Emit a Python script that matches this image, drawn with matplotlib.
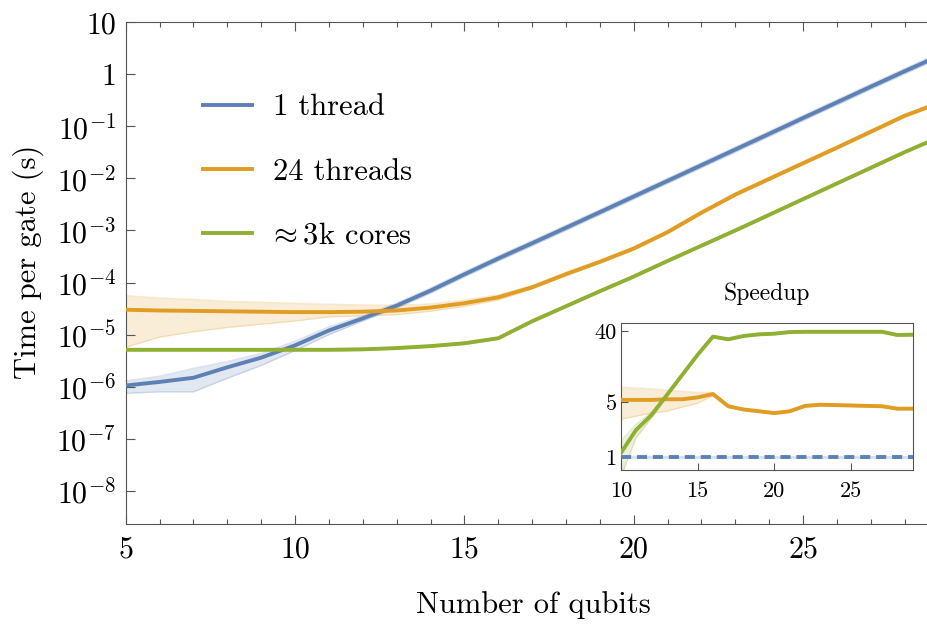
import matplotlib
matplotlib.use("Agg")
import matplotlib.pyplot as plt
import numpy as np
from matplotlib.ticker import FixedLocator, MultipleLocator, NullLocator

plt.rcParams['font.family'] = ['cmr10', 'DejaVu Serif']
plt.rcParams['mathtext.fontset'] = 'cm'
plt.rcParams['axes.formatter.use_mathtext'] = True

# ---------------- data: time per gate (s) ----------------
qubits = [5, 6, 7, 8, 9, 10, 11, 12, 13, 14, 15, 16, 17, 18, 19, 20,
          21, 22, 23, 24, 25, 26, 27, 28, 29]

t_1thread = [1.05e-6, 1.23e-6, 1.48e-6, 2.35e-6, 3.6e-6, 6.2e-6, 1.2e-5,
             2.05e-5, 3.6e-5, 7.0e-5, 1.44e-4, 2.9e-4, 5.7e-4, 1.13e-3,
             2.25e-3, 4.5e-3, 9.0e-3, 1.8e-2, 3.6e-2, 7.2e-2, 0.145, 0.29,
             0.58, 1.15, 2.25]
t_24threads = [3.0e-5, 2.9e-5, 2.85e-5, 2.8e-5, 2.75e-5, 2.7e-5, 2.7e-5,
               2.75e-5, 2.9e-5, 3.3e-5, 4.0e-5, 5.2e-5, 8.1e-5, 1.45e-4,
               2.5e-4, 4.5e-4, 9.3e-4, 2.2e-3, 4.9e-3, 9.8e-3, 1.96e-2,
               3.9e-2, 7.9e-2, 0.16, 0.28]
t_3kcores = [5.1e-6, 5.1e-6, 5.1e-6, 5.1e-6, 5.1e-6, 5.1e-6, 5.1e-6, 5.2e-6,
             5.5e-6, 6.0e-6, 6.8e-6, 8.5e-6, 1.8e-5, 3.5e-5, 6.8e-5, 1.3e-4,
             2.6e-4, 5.1e-4, 1.0e-3, 2.0e-3, 4.0e-3, 8.0e-3, 1.6e-2, 3.2e-2,
             6.1e-2]

# spread of the measurements, in decades above / below the mean
spread_1thread_up = [0.09, 0.11, 0.18, 0.11, 0.08, 0.08, 0.07, 0.05, 0.05,
                     0.05, 0.05, 0.05, 0.05, 0.05, 0.05, 0.05, 0.05, 0.05,
                     0.05, 0.05, 0.05, 0.05, 0.05, 0.05, 0.05]
spread_1thread_dn = [0.15, 0.19, 0.27, 0.21, 0.15, 0.10, 0.08, 0.05, 0.05,
                     0.05, 0.05, 0.05, 0.05, 0.05, 0.05, 0.05, 0.05, 0.05,
                     0.05, 0.05, 0.05, 0.05, 0.05, 0.05, 0.05]
spread_24_up = [0.27, 0.24, 0.22, 0.19, 0.18, 0.17, 0.15, 0.13, 0.10, 0.07,
                0.06, 0.05, 0.03, 0.03, 0.03, 0.03, 0.03, 0.03, 0.03, 0.03,
                0.03, 0.03, 0.03, 0.03, 0.03]
spread_24_dn = [0.72, 0.51, 0.40, 0.31, 0.24, 0.17, 0.09, 0.08, 0.08, 0.07,
                0.06, 0.05, 0.03, 0.03, 0.03, 0.03, 0.03, 0.03, 0.03, 0.03,
                0.03, 0.03, 0.03, 0.03, 0.03]
spread_3k = [0.02, 0.02, 0.02, 0.02, 0.02, 0.02, 0.02, 0.02, 0.02, 0.02,
             0.02, 0.02, 0.02, 0.02, 0.02, 0.02, 0.02, 0.02, 0.02, 0.02,
             0.02, 0.02, 0.02, 0.02, 0.02]

# ---------------- data: speedup relative to 1 thread ----------------
speed_qubits = [10, 11, 12, 13, 14, 15, 16, 17, 18, 19, 20, 21, 22, 23,
                24, 25, 26, 27, 28, 29]
speed_1thread = [1, 1, 1, 1, 1, 1, 1, 1, 1, 1, 1, 1, 1, 1, 1, 1, 1, 1, 1, 1]
speed_24 = [5.3, 5.3, 5.3, 5.4, 5.4, 5.7, 6.3, 4.4, 4.0, 3.8, 3.6, 3.8,
            4.45, 4.6, 4.55, 4.5, 4.45, 4.4, 4.1, 4.1]
speed_24_lo = [3.0, 3.3, 3.6, 3.8, 4.3, 4.8, 6.0, 4.25, 3.88, 3.68, 3.5,
               3.68, 4.32, 4.46, 4.42, 4.37, 4.32, 4.27, 3.98, 3.98]
speed_24_hi = [7.7, 7.5, 7.3, 7.1, 6.8, 6.6, 6.6, 4.55, 4.12, 3.92, 3.72,
               3.92, 4.58, 4.74, 4.69, 4.64, 4.58, 4.53, 4.22, 4.22]
speed_3k = [1.11, 2.2, 3.4, 6.1, 11.0, 19.8, 33.8, 31.3, 34.5, 36.2, 36.9,
            38.7, 39.0, 39.0, 39.0, 39.0, 39.0, 39.0, 35.5, 35.8]
speed_3k_lo = [0.55, 1.75, 3.1, 5.8, 10.6, 19.2, 32.8, 30.4, 33.5, 35.1,
               35.8, 37.5, 37.8, 37.8, 37.8, 37.8, 37.8, 37.8, 34.4, 34.7]
speed_3k_hi = [1.6, 2.6, 3.7, 6.4, 11.4, 20.4, 34.8, 32.2, 35.5, 37.3, 38.0,
               39.9, 40.2, 40.2, 40.2, 40.2, 40.2, 40.2, 36.6, 36.9]

labels = ['1 thread', '24 threads', r'$\!\approx$3k cores']
main_yticks = [1e-8, 1e-7, 1e-6, 1e-5, 1e-4, 1e-3, 1e-2, 1e-1, 1, 10]
main_yticklabels = [r'$10^{-8}$', r'$10^{-7}$', r'$10^{-6}$', r'$10^{-5}$',
                    r'$10^{-4}$', r'$10^{-3}$', r'$10^{-2}$', r'$10^{-1}$',
                    '1', '10']
inset_yticks = [1, 5, 40]
inset_yticklabels = ['1', '5', '40']

# ---------------- style ----------------
BLUE = '#5E81B5'
ORANGE = '#E19C24'
GREEN = '#8FB032'
FRAME = '#555555'
LW = 2.8

fig = plt.figure(figsize=(9.28, 6.25), dpi=100)
ax = fig.add_axes([0.1355, 0.1616, 1 - 0.1355, 0.8027])


def band(axis, x, y, up, dn, color):
    y = np.asarray(y, float)
    hi = y * 10 ** np.asarray(up, float)
    lo = y / 10 ** np.asarray(dn, float)
    axis.fill_between(x, lo, hi, color=color, alpha=0.18, lw=0, zorder=1)
    axis.plot(x, hi, color=color, alpha=0.22, lw=1.0, zorder=1)
    axis.plot(x, lo, color=color, alpha=0.22, lw=1.0, zorder=1)


band(ax, qubits, t_1thread, spread_1thread_up, spread_1thread_dn, BLUE)
band(ax, qubits, t_24threads, spread_24_up, spread_24_dn, ORANGE)
band(ax, qubits, t_3kcores, spread_3k, spread_3k, GREEN)

h1, = ax.plot(qubits, t_1thread, color=BLUE, lw=LW, zorder=3,
              solid_capstyle='butt')
h2, = ax.plot(qubits, t_24threads, color=ORANGE, lw=LW, zorder=3,
              solid_capstyle='butt')
h3, = ax.plot(qubits, t_3kcores, color=GREEN, lw=LW, zorder=3,
              solid_capstyle='butt')

ax.set_yscale('log')
ax.set_xlim(5, 28.69)
ax.set_ylim(10 ** -8.64, 10)
ax.xaxis.set_major_locator(FixedLocator([5, 10, 15, 20, 25]))
ax.xaxis.set_minor_locator(MultipleLocator(1))
ax.yaxis.set_major_locator(FixedLocator(main_yticks))
ax.yaxis.set_minor_locator(NullLocator())
ax.set_yticklabels(main_yticklabels)
ax.set_xticklabels(['5', '10', '15', '20', '25'])
ax.tick_params(which='both', direction='in', top=True, right=False,
               color=FRAME, width=0.8, labelsize=21.5)
ax.tick_params(which='major', length=6.5)
ax.tick_params(which='minor', length=3.6)
ax.tick_params(axis='x', pad=9)
ax.tick_params(axis='y', pad=7)
for name, sp in ax.spines.items():
    sp.set_color(FRAME)
    sp.set_linewidth(0.8)
ax.spines['right'].set_visible(False)

fig.text(533 / 928, 1 - 605 / 625, 'Number of qubits', fontsize=22,
         ha='center', va='center')
fig.text(28 / 928, 1 - 262 / 625, 'Time per gate (s)', fontsize=22,
         ha='center', va='center', rotation=90)

ax.legend([h1, h2, h3], labels, loc='upper left',
          bbox_to_anchor=(201 / 928, 1 - 94 / 625),
          bbox_transform=fig.transFigure, frameon=False, fontsize=22,
          handlelength=1.75, handletextpad=0.6, labelspacing=1.2,
          borderpad=0, borderaxespad=0)

# ---------------- inset: speedup ----------------
ins = fig.add_axes([620.7 / 928, 1 - 470 / 625, 292 / 928, 146.7 / 625])
ins.fill_between(speed_qubits, speed_24_lo, speed_24_hi, color=ORANGE,
                 alpha=0.18, lw=0, zorder=1)
ins.plot(speed_qubits, speed_24_lo, color=ORANGE, alpha=0.22, lw=1.0, zorder=1)
ins.plot(speed_qubits, speed_24_hi, color=ORANGE, alpha=0.22, lw=1.0, zorder=1)
ins.fill_between(speed_qubits, speed_3k_lo, speed_3k_hi, color=GREEN,
                 alpha=0.18, lw=0, zorder=1)
ins.plot(speed_qubits, speed_3k_lo, color=GREEN, alpha=0.22, lw=1.0, zorder=1)
ins.plot(speed_qubits, speed_3k_hi, color=GREEN, alpha=0.22, lw=1.0, zorder=1)
ins.plot(speed_qubits, speed_1thread, color=BLUE, alpha=0.25, lw=2.0, zorder=1)

ins.plot(speed_qubits, speed_1thread, color=BLUE, lw=LW, zorder=3,
         dashes=(2.6, 1.5), dash_capstyle='butt')
ins.plot(speed_qubits, speed_24, color=ORANGE, lw=LW, zorder=3)
ins.plot(speed_qubits, speed_3k, color=GREEN, lw=LW, zorder=3)

ins.set_yscale('log')
ins.set_xlim(10, 29)
ins.set_ylim(0.68, 50)
ins.xaxis.set_major_locator(FixedLocator([10, 15, 20, 25]))
ins.xaxis.set_minor_locator(NullLocator())
ins.yaxis.set_major_locator(FixedLocator(inset_yticks))
ins.yaxis.set_minor_locator(NullLocator())
ins.set_yticklabels(inset_yticklabels)
ins.set_xticklabels(['10', '15', '20', '25'])
ins.tick_params(which='both', direction='in', color=FRAME, width=0.8,
                length=5, labelsize=16)
ins.tick_params(axis='x', pad=8)
ins.tick_params(axis='y', pad=3)
for sp in ins.spines.values():
    sp.set_color(FRAME)
    sp.set_linewidth(0.8)
ins.set_title('Speedup', fontsize=17, pad=17)

fig.savefig('out.png', dpi=100)
